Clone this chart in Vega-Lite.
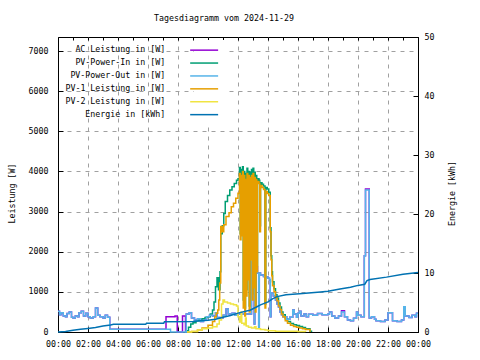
{
"$schema":"https://vega.github.io/schema/vega-lite/v6.json",
"width":360,"height":295,
"autosize":"none",
"padding":{"left":58,"top":37,"right":62,"bottom":28},
"title":{"text":"Tagesdiagramm vom 2024-11-29","font":"DejaVu Sans Mono","fontSize":8.3,"fontWeight":"normal","color":"#000","anchor":"middle","dx":-14,"offset":10},
"config":{
 "view":{"stroke":"#000","strokeWidth":1},
 "axis":{"labelFont":"DejaVu Sans Mono","labelFontSize":8.3,"titleFont":"DejaVu Sans Mono","titleFontSize":8.3,"titleFontWeight":"normal","labelColor":"#000","titleColor":"#000","tickColor":"#000","domainColor":"#000","gridColor":"#a0a0a0","gridDash":[4,5],"gridWidth":1},
 "legend":{"orient":"none","legendX":136,"legendY":3,"padding":6,"fillColor":"#ffffff","zindex":1,"offset":0,"symbolType":"M-4.3,0H4.3","symbolSize":42.25,"symbolStrokeWidth":1.5,"rowPadding":3.9,"labelAlign":"right","labelOffset":-43,"labelFont":"DejaVu Sans Mono","labelFontSize":8.3,"labelColor":"#000","labelLimit":300}
},
"datasets":{
"ac":[{"t":0,"v":520},{"t":0.1,"v":430},{"t":0.2,"v":480},{"t":0.35,"v":400},{"t":0.5,"v":380},{"t":0.6,"v":460},{"t":0.75,"v":500},{"t":0.9,"v":370},{"t":1.0,"v":350},{"t":1.15,"v":400},{"t":1.3,"v":380},{"t":1.4,"v":480},{"t":1.55,"v":520},{"t":1.7,"v":400},{"t":1.85,"v":470},{"t":2.0,"v":380},{"t":2.15,"v":350},{"t":2.35,"v":380},{"t":2.5,"v":600},{"t":2.65,"v":420},{"t":2.8,"v":380},{"t":3.0,"v":350},{"t":3.15,"v":420},{"t":3.3,"v":370},{"t":3.45,"v":70},{"t":6.75,"v":70},{"t":7.2,"v":380},{"t":7.8,"v":400},{"t":7.95,"v":0},{"t":8.3,"v":400},{"t":8.5,"v":0},{"t":8.55,"v":450},{"t":8.75,"v":480},{"t":8.9,"v":350},{"t":9.1,"v":300},{"t":9.3,"v":330},{"t":9.5,"v":260},{"t":9.7,"v":300},{"t":9.9,"v":380},{"t":10.1,"v":420},{"t":10.3,"v":400},{"t":10.5,"v":480},{"t":10.6,"v":360},{"t":10.8,"v":350},{"t":11.0,"v":420},{"t":11.2,"v":570},{"t":11.35,"v":450},{"t":11.6,"v":470},{"t":11.8,"v":420},{"t":12.0,"v":450},{"t":12.9,"v":1750},{"t":13.0,"v":1650},{"t":13.08,"v":200},{"t":13.12,"v":1620},{"t":13.3,"v":1470},{"t":13.38,"v":100},{"t":13.42,"v":1470},{"t":13.5,"v":1420},{"t":13.7,"v":1380},{"t":13.85,"v":1370},{"t":14.0,"v":1340},{"t":14.1,"v":1300},{"t":14.15,"v":380},{"t":14.2,"v":970},{"t":14.35,"v":900},{"t":14.5,"v":800},{"t":14.6,"v":700},{"t":14.7,"v":620},{"t":14.8,"v":500},{"t":14.9,"v":430},{"t":15.0,"v":380},{"t":15.25,"v":320},{"t":15.45,"v":370},{"t":15.65,"v":550},{"t":15.75,"v":450},{"t":15.9,"v":370},{"t":16.0,"v":470},{"t":16.1,"v":520},{"t":16.2,"v":400},{"t":16.4,"v":450},{"t":16.55,"v":380},{"t":16.7,"v":440},{"t":17.0,"v":420},{"t":17.3,"v":460},{"t":17.6,"v":430},{"t":18.0,"v":450},{"t":18.1,"v":500},{"t":18.25,"v":400},{"t":18.45,"v":350},{"t":18.7,"v":400},{"t":18.9,"v":530},{"t":19.1,"v":380},{"t":19.3,"v":300},{"t":19.5,"v":280},{"t":19.7,"v":340},{"t":19.9,"v":500},{"t":20.0,"v":420},{"t":20.2,"v":380},{"t":20.42,"v":1900},{"t":20.5,"v":3560},{"t":20.75,"v":350},{"t":20.9,"v":380},{"t":21.1,"v":320},{"t":21.2,"v":280},{"t":21.5,"v":260},{"t":21.8,"v":300},{"t":22.0,"v":480},{"t":22.3,"v":280},{"t":22.6,"v":260},{"t":22.9,"v":300},{"t":23.05,"v":630},{"t":23.15,"v":400},{"t":23.4,"v":360},{"t":23.6,"v":420},{"t":23.8,"v":380},{"t":23.9,"v":470},{"t":24,"v":470}],
"pout":[{"t":0,"v":520},{"t":0.1,"v":430},{"t":0.2,"v":480},{"t":0.35,"v":400},{"t":0.5,"v":380},{"t":0.6,"v":460},{"t":0.75,"v":500},{"t":0.9,"v":370},{"t":1.0,"v":350},{"t":1.15,"v":400},{"t":1.3,"v":380},{"t":1.4,"v":480},{"t":1.55,"v":520},{"t":1.7,"v":400},{"t":1.85,"v":470},{"t":2.0,"v":380},{"t":2.15,"v":350},{"t":2.35,"v":380},{"t":2.5,"v":600},{"t":2.65,"v":420},{"t":2.8,"v":380},{"t":3.0,"v":350},{"t":3.15,"v":420},{"t":3.3,"v":370},{"t":3.45,"v":70},{"t":7.5,"v":0},{"t":8.55,"v":450},{"t":8.75,"v":480},{"t":8.9,"v":350},{"t":9.1,"v":300},{"t":9.3,"v":330},{"t":9.5,"v":260},{"t":9.7,"v":300},{"t":9.9,"v":380},{"t":10.1,"v":420},{"t":10.3,"v":400},{"t":10.5,"v":480},{"t":10.6,"v":360},{"t":10.8,"v":350},{"t":11.0,"v":420},{"t":11.2,"v":570},{"t":11.35,"v":450},{"t":11.6,"v":470},{"t":11.8,"v":420},{"t":12.0,"v":450},{"t":12.9,"v":1750},{"t":13.0,"v":1650},{"t":13.08,"v":200},{"t":13.12,"v":1620},{"t":13.3,"v":1470},{"t":13.38,"v":100},{"t":13.42,"v":1470},{"t":13.5,"v":1420},{"t":13.7,"v":1380},{"t":13.85,"v":1370},{"t":14.0,"v":1340},{"t":14.1,"v":1300},{"t":14.15,"v":380},{"t":14.2,"v":970},{"t":14.35,"v":900},{"t":14.5,"v":800},{"t":14.6,"v":700},{"t":14.7,"v":620},{"t":14.8,"v":500},{"t":14.9,"v":430},{"t":15.0,"v":380},{"t":15.25,"v":320},{"t":15.45,"v":370},{"t":15.65,"v":550},{"t":15.75,"v":450},{"t":15.9,"v":370},{"t":16.0,"v":470},{"t":16.1,"v":520},{"t":16.2,"v":400},{"t":16.4,"v":450},{"t":16.55,"v":380},{"t":16.7,"v":440},{"t":17.0,"v":420},{"t":17.3,"v":460},{"t":17.6,"v":430},{"t":18.0,"v":450},{"t":18.1,"v":500},{"t":18.25,"v":400},{"t":18.45,"v":350},{"t":18.7,"v":400},{"t":18.9,"v":500},{"t":19.1,"v":380},{"t":19.3,"v":300},{"t":19.5,"v":280},{"t":19.7,"v":340},{"t":19.9,"v":500},{"t":20.0,"v":420},{"t":20.2,"v":380},{"t":20.42,"v":1900},{"t":20.5,"v":3540},{"t":20.75,"v":350},{"t":20.9,"v":380},{"t":21.1,"v":320},{"t":21.2,"v":280},{"t":21.5,"v":260},{"t":21.8,"v":300},{"t":22.0,"v":480},{"t":22.3,"v":280},{"t":22.6,"v":260},{"t":22.9,"v":300},{"t":23.05,"v":630},{"t":23.15,"v":400},{"t":23.4,"v":360},{"t":23.6,"v":420},{"t":23.8,"v":380},{"t":23.9,"v":470},{"t":24,"v":470}],
"pin":[{"t":8.5,"v":0},{"t":8.55,"v":30},{"t":8.7,"v":120},{"t":8.85,"v":200},{"t":9.0,"v":230},{"t":9.2,"v":280},{"t":9.4,"v":300},{"t":9.6,"v":330},{"t":9.8,"v":360},{"t":10.0,"v":380},{"t":10.15,"v":450},{"t":10.3,"v":550},{"t":10.4,"v":750},{"t":10.5,"v":1130},{"t":10.6,"v":1350},{"t":10.7,"v":1050},{"t":10.8,"v":1500},{"t":10.85,"v":2450},{"t":10.95,"v":2650},{"t":11.05,"v":2950},{"t":11.15,"v":3250},{"t":11.3,"v":3400},{"t":11.45,"v":3540},{"t":11.6,"v":3620},{"t":11.75,"v":3700},{"t":11.9,"v":3780},{"t":12.0,"v":3820},{"t":12.1,"v":4100},{"t":12.15,"v":2450},{"t":12.2,"v":4050},{"t":12.25,"v":2600},{"t":12.3,"v":4120},{"t":12.35,"v":800},{"t":12.4,"v":4000},{"t":12.45,"v":600},{"t":12.5,"v":3950},{"t":12.55,"v":1050},{"t":12.6,"v":4080},{"t":12.65,"v":1450},{"t":12.7,"v":4000},{"t":12.75,"v":650},{"t":12.8,"v":3980},{"t":12.85,"v":1950},{"t":12.9,"v":4050},{"t":12.95,"v":950},{"t":13.0,"v":4080},{"t":13.05,"v":1250},{"t":13.1,"v":3980},{"t":13.15,"v":650},{"t":13.2,"v":3900},{"t":13.25,"v":1650},{"t":13.3,"v":3820},{"t":13.4,"v":3780},{"t":13.45,"v":2650},{"t":13.5,"v":3720},{"t":13.6,"v":3680},{"t":13.7,"v":3640},{"t":13.8,"v":700},{"t":13.85,"v":3600},{"t":13.95,"v":3560},{"t":14.05,"v":3480},{"t":14.15,"v":2600},{"t":14.2,"v":1900},{"t":14.25,"v":1500},{"t":14.3,"v":1250},{"t":14.4,"v":1080},{"t":14.5,"v":930},{"t":14.6,"v":850},{"t":14.7,"v":720},{"t":14.8,"v":620},{"t":14.9,"v":500},{"t":15.0,"v":430},{"t":15.15,"v":330},{"t":15.3,"v":260},{"t":15.5,"v":210},{"t":15.7,"v":180},{"t":15.9,"v":160},{"t":16.1,"v":140},{"t":16.3,"v":110},{"t":16.5,"v":80},{"t":16.8,"v":20},{"t":16.9,"v":0}],
"pv1":[{"t":8.6,"v":0},{"t":8.9,"v":10},{"t":9.3,"v":50},{"t":9.6,"v":100},{"t":10.0,"v":170},{"t":10.3,"v":260},{"t":10.45,"v":380},{"t":10.55,"v":470},{"t":10.65,"v":550},{"t":10.72,"v":800},{"t":10.78,"v":1220},{"t":10.85,"v":2630},{"t":10.95,"v":2500},{"t":11.05,"v":2670},{"t":11.2,"v":2880},{"t":11.4,"v":2970},{"t":11.55,"v":3120},{"t":11.7,"v":3210},{"t":11.85,"v":3330},{"t":12.0,"v":3460},{"t":12.1,"v":3950},{"t":12.15,"v":2300},{"t":12.2,"v":3900},{"t":12.25,"v":2400},{"t":12.3,"v":4000},{"t":12.35,"v":600},{"t":12.4,"v":3900},{"t":12.45,"v":400},{"t":12.5,"v":3800},{"t":12.55,"v":900},{"t":12.6,"v":3950},{"t":12.65,"v":1300},{"t":12.7,"v":3900},{"t":12.75,"v":500},{"t":12.8,"v":3850},{"t":12.85,"v":1800},{"t":12.9,"v":3900},{"t":12.95,"v":800},{"t":13.0,"v":3950},{"t":13.05,"v":1100},{"t":13.1,"v":3850},{"t":13.15,"v":500},{"t":13.2,"v":3800},{"t":13.25,"v":1500},{"t":13.3,"v":3750},{"t":13.4,"v":3700},{"t":13.45,"v":2500},{"t":13.5,"v":3650},{"t":13.6,"v":3600},{"t":13.7,"v":3550},{"t":13.8,"v":600},{"t":13.85,"v":3500},{"t":13.95,"v":3450},{"t":14.05,"v":3400},{"t":14.15,"v":2500},{"t":14.2,"v":1800},{"t":14.25,"v":1400},{"t":14.3,"v":1150},{"t":14.4,"v":1000},{"t":14.5,"v":850},{"t":14.6,"v":780},{"t":14.7,"v":650},{"t":14.8,"v":560},{"t":14.9,"v":450},{"t":15.0,"v":380},{"t":15.15,"v":280},{"t":15.3,"v":220},{"t":15.5,"v":170},{"t":15.7,"v":140},{"t":15.9,"v":120},{"t":16.1,"v":100},{"t":16.3,"v":80},{"t":16.5,"v":60},{"t":16.8,"v":0}],
"pv2":[{"t":8.6,"v":0},{"t":8.9,"v":10},{"t":9.3,"v":50},{"t":9.6,"v":80},{"t":10.0,"v":100},{"t":10.3,"v":130},{"t":10.6,"v":200},{"t":10.75,"v":300},{"t":10.9,"v":700},{"t":11.0,"v":800},{"t":11.1,"v":750},{"t":11.3,"v":720},{"t":11.5,"v":700},{"t":11.7,"v":680},{"t":11.9,"v":650},{"t":12.0,"v":380},{"t":12.1,"v":250},{"t":12.2,"v":500},{"t":12.25,"v":220},{"t":12.4,"v":180},{"t":12.5,"v":350},{"t":12.55,"v":150},{"t":12.7,"v":120},{"t":12.9,"v":100},{"t":13.1,"v":130},{"t":13.2,"v":80},{"t":13.5,"v":60},{"t":13.8,"v":50},{"t":14.0,"v":30},{"t":14.5,"v":20},{"t":16.0,"v":10},{"t":16.5,"v":0}],
"e":[{"t":0,"v":0},{"t":0.5,"v":0.1},{"t":1.0,"v":0.3},{"t":1.5,"v":0.45},{"t":2.0,"v":0.6},{"t":2.5,"v":0.75},{"t":3.0,"v":1.0},{"t":3.5,"v":1.2},{"t":3.7,"v":1.3},{"t":5.85,"v":1.3},{"t":5.9,"v":1.5},{"t":7.05,"v":1.5},{"t":7.1,"v":1.75},{"t":9.0,"v":1.8},{"t":9.5,"v":1.9},{"t":10.0,"v":2.0},{"t":10.5,"v":2.15},{"t":11.0,"v":2.5},{"t":11.5,"v":2.8},{"t":12.0,"v":3.2},{"t":12.5,"v":3.5},{"t":12.8,"v":3.7},{"t":13.2,"v":4.2},{"t":13.5,"v":4.6},{"t":14.0,"v":5.1},{"t":14.3,"v":5.6},{"t":14.6,"v":6.0},{"t":15.2,"v":6.3},{"t":16.1,"v":6.5},{"t":17.5,"v":6.8},{"t":18.0,"v":6.9},{"t":18.8,"v":7.3},{"t":19.5,"v":7.6},{"t":20.0,"v":7.9},{"t":20.45,"v":8.1},{"t":20.6,"v":8.7},{"t":20.8,"v":8.9},{"t":21.9,"v":9.3},{"t":23.0,"v":9.8},{"t":24.0,"v":10.1}]
},
"layer":[
{"layer":[
 {"data":{"name":"ac"},"mark":{"type":"line","interpolate":"step-after","strokeWidth":1.5},
  "encoding":{
   "x":{"field":"t","type":"quantitative","scale":{"domain":[0,24],"nice":false},"axis":{"orient":"bottom","values":[0,2,4,6,8,10,12,14,16,18,20,22,24],"labelExpr":"datum.value==24 ? '00:00' : (datum.value<10 ? '0' : '') + datum.value + ':00'","grid":true,"tickSize":-5,"labelPadding":12,"title":null,"labelFlush":false}},
   "y":{"field":"v","type":"quantitative","scale":{"domain":[0,7350],"nice":false},"axis":{"orient":"left","values":[0,1000,2000,3000,4000,5000,6000,7000],"format":"d","grid":true,"tickSize":-5,"labelPadding":15,"title":"Leistung [W]","titleX":-46,"titleY":156,"titleAngle":270,"titleAlign":"center","titleBaseline":"middle"}},
   "color":{"datum":"AC Leistung in [W]","type":"nominal","scale":{"domain":["AC Leistung in [W]","PV-Power-In in [W]","PV-Power-Out in [W]","PV-1 Leistung in [W]","PV-2 Leistung in [W]","Energie in [kWh]"],"range":["#9400d3","#009e73","#56b4e9","#e69f00","#f0e442","#0072b2"]},"legend":{"title":null,"symbolType":"M-4.3,0H4.3","fillColor":"#ffffff","zindex":1}}}},
 {"data":{"name":"pin"},"mark":{"type":"line","interpolate":"step-after","strokeWidth":1.5},
  "encoding":{
   "x":{"field":"t","type":"quantitative","scale":{"domain":[0,24],"nice":false},"axis":{"orient":"bottom","values":[0,2,4,6,8,10,12,14,16,18,20,22,24],"labelExpr":"datum.value==24 ? '00:00' : (datum.value<10 ? '0' : '') + datum.value + ':00'","grid":true,"tickSize":-5,"labelPadding":12,"title":null,"labelFlush":false}},
   "y":{"field":"v","type":"quantitative","scale":{"domain":[0,7350],"nice":false},"axis":{"orient":"left","values":[0,1000,2000,3000,4000,5000,6000,7000],"format":"d","grid":true,"tickSize":-5,"labelPadding":15,"title":"Leistung [W]","titleX":-46,"titleY":156,"titleAngle":270,"titleAlign":"center","titleBaseline":"middle"}},
   "color":{"datum":"PV-Power-In in [W]","type":"nominal","scale":{"domain":["AC Leistung in [W]","PV-Power-In in [W]","PV-Power-Out in [W]","PV-1 Leistung in [W]","PV-2 Leistung in [W]","Energie in [kWh]"],"range":["#9400d3","#009e73","#56b4e9","#e69f00","#f0e442","#0072b2"]},"legend":{"title":null,"symbolType":"M-4.3,0H4.3","fillColor":"#ffffff","zindex":1}}}},
 {"data":{"name":"pout"},"mark":{"type":"line","interpolate":"step-after","strokeWidth":1.5},
  "encoding":{
   "x":{"field":"t","type":"quantitative","scale":{"domain":[0,24],"nice":false},"axis":{"orient":"bottom","values":[0,2,4,6,8,10,12,14,16,18,20,22,24],"labelExpr":"datum.value==24 ? '00:00' : (datum.value<10 ? '0' : '') + datum.value + ':00'","grid":true,"tickSize":-5,"labelPadding":12,"title":null,"labelFlush":false}},
   "y":{"field":"v","type":"quantitative","scale":{"domain":[0,7350],"nice":false},"axis":{"orient":"left","values":[0,1000,2000,3000,4000,5000,6000,7000],"format":"d","grid":true,"tickSize":-5,"labelPadding":15,"title":"Leistung [W]","titleX":-46,"titleY":156,"titleAngle":270,"titleAlign":"center","titleBaseline":"middle"}},
   "color":{"datum":"PV-Power-Out in [W]","type":"nominal","scale":{"domain":["AC Leistung in [W]","PV-Power-In in [W]","PV-Power-Out in [W]","PV-1 Leistung in [W]","PV-2 Leistung in [W]","Energie in [kWh]"],"range":["#9400d3","#009e73","#56b4e9","#e69f00","#f0e442","#0072b2"]},"legend":{"title":null,"symbolType":"M-4.3,0H4.3","fillColor":"#ffffff","zindex":1}}}},
 {"data":{"name":"pv1"},"mark":{"type":"line","interpolate":"step-after","strokeWidth":1.5},
  "encoding":{
   "x":{"field":"t","type":"quantitative","scale":{"domain":[0,24],"nice":false},"axis":{"orient":"bottom","values":[0,2,4,6,8,10,12,14,16,18,20,22,24],"labelExpr":"datum.value==24 ? '00:00' : (datum.value<10 ? '0' : '') + datum.value + ':00'","grid":true,"tickSize":-5,"labelPadding":12,"title":null,"labelFlush":false}},
   "y":{"field":"v","type":"quantitative","scale":{"domain":[0,7350],"nice":false},"axis":{"orient":"left","values":[0,1000,2000,3000,4000,5000,6000,7000],"format":"d","grid":true,"tickSize":-5,"labelPadding":15,"title":"Leistung [W]","titleX":-46,"titleY":156,"titleAngle":270,"titleAlign":"center","titleBaseline":"middle"}},
   "color":{"datum":"PV-1 Leistung in [W]","type":"nominal","scale":{"domain":["AC Leistung in [W]","PV-Power-In in [W]","PV-Power-Out in [W]","PV-1 Leistung in [W]","PV-2 Leistung in [W]","Energie in [kWh]"],"range":["#9400d3","#009e73","#56b4e9","#e69f00","#f0e442","#0072b2"]},"legend":{"title":null,"symbolType":"M-4.3,0H4.3","fillColor":"#ffffff","zindex":1}}}},
 {"data":{"name":"pv2"},"mark":{"type":"line","interpolate":"step-after","strokeWidth":1.5},
  "encoding":{
   "x":{"field":"t","type":"quantitative","scale":{"domain":[0,24],"nice":false},"axis":{"orient":"bottom","values":[0,2,4,6,8,10,12,14,16,18,20,22,24],"labelExpr":"datum.value==24 ? '00:00' : (datum.value<10 ? '0' : '') + datum.value + ':00'","grid":true,"tickSize":-5,"labelPadding":12,"title":null,"labelFlush":false}},
   "y":{"field":"v","type":"quantitative","scale":{"domain":[0,7350],"nice":false},"axis":{"orient":"left","values":[0,1000,2000,3000,4000,5000,6000,7000],"format":"d","grid":true,"tickSize":-5,"labelPadding":15,"title":"Leistung [W]","titleX":-46,"titleY":156,"titleAngle":270,"titleAlign":"center","titleBaseline":"middle"}},
   "color":{"datum":"PV-2 Leistung in [W]","type":"nominal","scale":{"domain":["AC Leistung in [W]","PV-Power-In in [W]","PV-Power-Out in [W]","PV-1 Leistung in [W]","PV-2 Leistung in [W]","Energie in [kWh]"],"range":["#9400d3","#009e73","#56b4e9","#e69f00","#f0e442","#0072b2"]},"legend":{"title":null,"symbolType":"M-4.3,0H4.3","fillColor":"#ffffff","zindex":1}}}}
]},
{"data":{"name":"e"},"mark":{"type":"line","strokeWidth":1.5},
 "encoding":{
  "x":{"field":"t","type":"quantitative","scale":{"domain":[0,24],"nice":false},"axis":{"orient":"top","values":[0,1,2,3,4,5,6,7,8,9,10,11,12,13,14,15,16,17,18,19,20,21,22,23,24],"labels":false,"grid":false,"domain":false,"tickSize":-3,"title":null}},
  "y":{"field":"v","type":"quantitative","scale":{"domain":[0,50],"nice":false},"axis":{"orient":"right","values":[0,10,20,30,40,50],"grid":false,"tickSize":-5,"labelPadding":11,"title":"Energie [kWh]","titleX":34,"titleY":156,"titleAngle":270,"titleAlign":"center","titleBaseline":"middle"}},
  "color":{"datum":"Energie in [kWh]","type":"nominal","scale":{"domain":["AC Leistung in [W]","PV-Power-In in [W]","PV-Power-Out in [W]","PV-1 Leistung in [W]","PV-2 Leistung in [W]","Energie in [kWh]"],"range":["#9400d3","#009e73","#56b4e9","#e69f00","#f0e442","#0072b2"]},"legend":{"title":null,"symbolType":"M-4.3,0H4.3","fillColor":"#ffffff","zindex":1}}}}
],
"resolve":{"scale":{"y":"independent"},"axis":{"x":"independent"}}
}
